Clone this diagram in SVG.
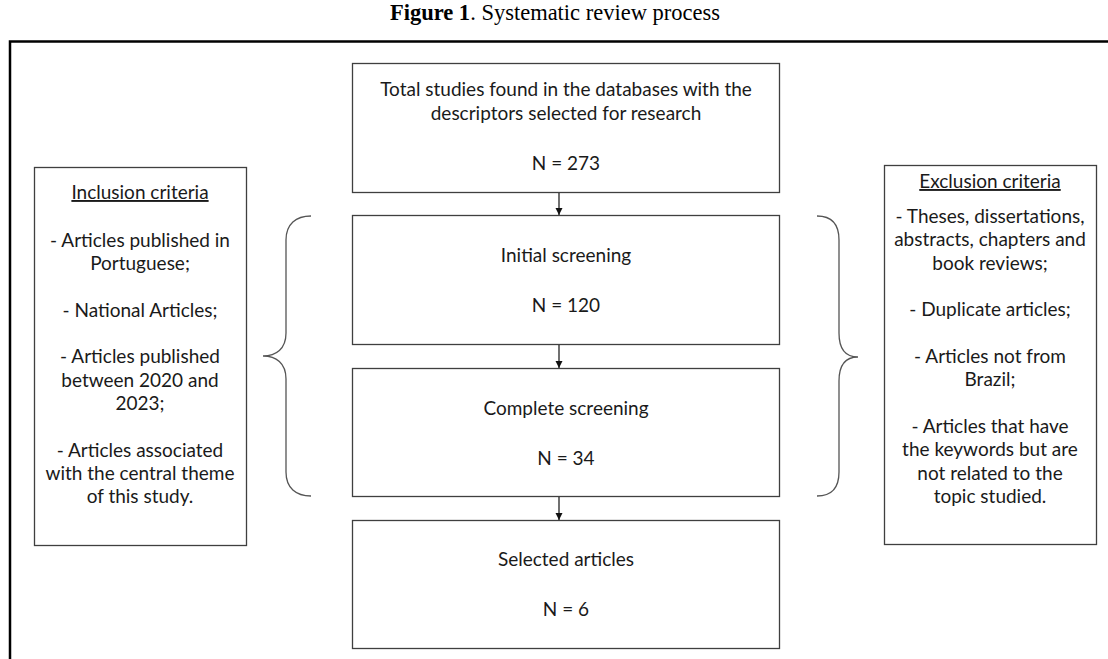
<svg xmlns="http://www.w3.org/2000/svg" width="1108" height="659" viewBox="0 0 1108 659">
<style>
.box{fill:#fff;stroke:#3f3f3f;stroke-width:1.3}
.t{font-family:Lato,"Open Sans",sans-serif;font-size:19px;fill:#1a1a1a;text-anchor:middle}
.u{text-decoration:underline}
.brace{fill:none;stroke:#555;stroke-width:1.3}
.conn{stroke:#111;stroke-width:1.2;marker-end:url(#ah)}
</style>
<defs>
<marker id="ah" markerWidth="8" markerHeight="8" refX="7" refY="4" orient="auto" markerUnits="userSpaceOnUse">
<path d="M0,0.5 L7,4 L0,7.5 Z" fill="#111"/>
</marker>
</defs>
<rect width="1108" height="659" fill="#fff"/>
<text x="555" y="20" font-family="Liberation Serif,serif" font-size="22.5" text-anchor="middle" fill="#000"><tspan font-weight="bold">Figure 1</tspan>. Systematic review process</text>
<path d="M10,659 L10,41.5 L1108,41.5" fill="none" stroke="#000" stroke-width="2.5"/>
<g id="total">
<rect class="box" x="352.5" y="63.5" width="427" height="129"/>
<text class="t" x="566" y="96">Total studies found in the databases with the</text>
<text class="t" x="566" y="120">descriptors selected for research</text>
<text class="t" x="566" y="170">N = 273</text>
</g>
<g id="initial">
<rect class="box" x="352.5" y="215.5" width="427" height="129"/>
<text class="t" x="566" y="262">Initial screening</text>
<text class="t" x="566" y="312">N = 120</text>
</g>
<g id="complete">
<rect class="box" x="352.5" y="368.5" width="427" height="128"/>
<text class="t" x="566" y="415">Complete screening</text>
<text class="t" x="566" y="465">N = 34</text>
</g>
<g id="selected">
<rect class="box" x="352.5" y="520.5" width="427" height="128"/>
<text class="t" x="566" y="566">Selected articles</text>
<text class="t" x="566" y="616">N = 6</text>
</g>
<g id="inclusion">
<rect class="box" x="34.5" y="167.5" width="212" height="378"/>
<text class="t u" x="140" y="199">Inclusion criteria</text>
<text class="t" x="140" y="247">- Articles published in</text>
<text class="t" x="140" y="270">Portuguese;</text>
<text class="t" x="140" y="317">- National Articles;</text>
<text class="t" x="140" y="363">- Articles published</text>
<text class="t" x="140" y="387">between 2020 and</text>
<text class="t" x="140" y="410">2023;</text>
<text class="t" x="140" y="457">- Articles associated</text>
<text class="t" x="140" y="480">with the central theme</text>
<text class="t" x="140" y="503">of this study.</text>
</g>
<g id="exclusion">
<rect class="box" x="884.5" y="165.5" width="212" height="379"/>
<text class="t u" x="990" y="188">Exclusion criteria</text>
<text class="t" x="990" y="223">- Theses, dissertations,</text>
<text class="t" x="990" y="246">abstracts, chapters and</text>
<text class="t" x="990" y="270">book reviews;</text>
<text class="t" x="990" y="316">- Duplicate articles;</text>
<text class="t" x="990" y="363">- Articles not from</text>
<text class="t" x="990" y="386">Brazil;</text>
<text class="t" x="990" y="433">- Articles that have</text>
<text class="t" x="990" y="456">the keywords but are</text>
<text class="t" x="990" y="480">not related to the</text>
<text class="t" x="990" y="503">topic studied.</text>
</g>
<g id="braces">
<path class="brace" d="M311,216 C296,216 286,224 286,240 L286,333 C286,349 276,356 263,356 C276,356 286,363 286,379 L286,472 C286,488 296,496 311,496"/>
<path class="brace" d="M817,216 C832,216 839,224 839,240 L839,333 C839,349 846,357 858,357 C846,357 839,365 839,381 L839,472 C839,488 832,496 817,496"/>
</g>
<g id="connectors">
<line class="conn" x1="559" y1="193" x2="559" y2="215"/>
<line class="conn" x1="559" y1="345" x2="559" y2="368"/>
<line class="conn" x1="559" y1="497" x2="559" y2="520"/>
</g>
</svg>
